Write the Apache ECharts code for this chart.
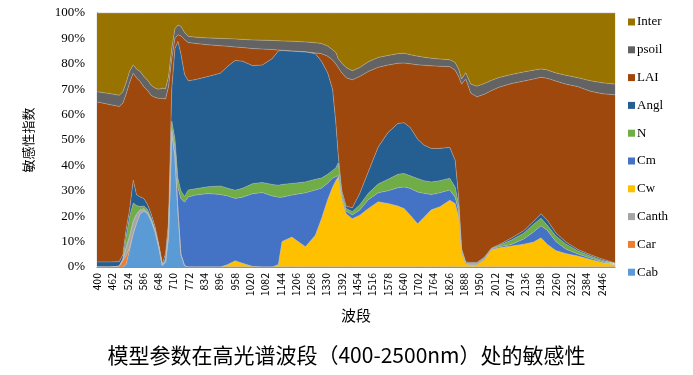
<!DOCTYPE html>
<html>
<head>
<meta charset="utf-8">
<script src="https://cdn.jsdelivr.net/npm/echarts@6/dist/echarts.min.js"></script>
<style>html,body{margin:0;padding:0;background:#fff;}#c{width:693px;height:375px;}</style>
</head>
<body>
<div id="c"></div>
<script>
// wavelengths (nm)
var wavelengths = [400,450,490,505,518,532,547,560,575,590,
  605,620,635,650,665,678,690,703,716,728,
  740,755,770,800,850,900,930,960,990,1030,
  1070,1110,1135,1150,1190,1245,1285,1310,1335,1355,
  1368,1378,1392,1410,1435,1465,1500,1540,1580,1620,
  1645,1670,1700,1725,1755,1790,1830,1852,1866,1878,
  1895,1915,1940,1970,2000,2030,2080,2130,2170,2200,
  2225,2260,2300,2350,2400,2450,2500];
var xTickLabels = ['400','462','524','586','648','710','772','834','896','958','1020','1082','1144','1206','1268','1330','1392','1454','1516','1578','1640','1702','1764','1826','1888','1950','2012','2074','2136','2198','2260','2322','2384','2446'];
var yTickLabels = ['0%','10%','20%','30%','40%','50%','60%','70%','80%','90%','100%'];

var cab = [0,0,0,0,1,6.6,13,17,21,22,
  21,18,14,8,0.6,2,12,52.5,43.4,22,
  5,0.5,0,0,0,0,0,0,0,0,
  0,0,0,0,0,0,0,0,0,0,
  0,0,0,0,0,0,0,0,0,0,
  0,0,0,0,0,0,0,0,0,0,
  0,0,0,0,0,0,0,0,0,0,
  0,0,0,0,0,0,0];
var car = [0,0,0.3,2.5,3.5,1,0.3,0,0,0,
  0,0,0,0,0,0,0,0,0,0,
  0,0,0,0,0,0,0,0,0,0,
  0,0,0,0,0,0,0,0,0,0,
  0,0,0,0,0,0,0,0,0,0,
  0,0,0,0,0,0,0,0,0,0,
  0,0,0,0,0,0,0,0,0,0,
  0,0,0,0,0,0,0];
var canth = [0,0,0,0.3,3,4.2,4.5,3.5,1.2,0.7,
  0.4,0.3,0.2,0.1,0,0,0.5,1,0.6,0.2,
  0,0,0,0,0,0,0,0,0,0,
  0,0,0,0,0,0,0,0,0,0,
  0,0,0,0,0,0,0,0,0,0,
  0,0,0,0,0,0,0,0,0,0,
  0,0,0,0,0,0,0,0,0,0,
  0,0,0,0,0,0,0];
var cw = [0,0,0,0,0,0,0,0,0,0,
  0,0,0,0,0,0,0,0,0,0,
  0,0,0,0,0,0,1,2.5,1.5,0.3,
  0,0,1,10,11.8,8,12.5,19,26.5,31.5,
  34,35.5,27,21,19,20.4,23,25.7,25,24,
  23,20.4,17,19.5,22.5,23.7,26.3,25,20,5.5,
  1.2,1,1,3,6.8,7.6,8.3,9,9.8,11.5,
  9,6.5,5.3,4.3,3,1.8,0.8];
var cm = [0,0,0,0,0.3,0.4,0.4,0.4,0.3,0.3,
  0.2,0.2,0.2,0.1,0,0.3,0.5,1,3,9,
  22,25,27.6,28.3,28.9,28.5,27,24.5,26,28.5,
  29.3,28,26.5,17.5,16.5,21.2,17.8,12,6.5,3.5,
  1.5,0.5,0.8,1,1.5,2,3.5,3.5,5,7.2,
  8.5,10.5,12.5,9.5,6,5.5,4,2.5,2,0.7,
  0.3,0.3,0.3,0.3,0.3,0.4,0.6,2,4,4.7,
  5.5,3.5,1.8,0.8,0.5,0.3,0.2];
var nVals = [0,0,0,0.5,4,7.5,7,3.3,1.3,1,
  1,0.8,0.6,0.4,0.2,1,2,3,3.5,3.7,
  3,2.3,2.7,2.5,2.7,3.4,3,3.2,3.5,4,
  4,4.5,4.7,5,4.6,4.3,4.2,4,3.5,3,
  3.5,5,1.5,1,1.3,2,2.5,3.5,4.5,5.3,
  5.3,5,5.3,5,5,4.8,4.6,4,2.5,0.5,
  0.2,0.2,0.2,0.2,0.2,0.5,1.7,2.3,3,3,
  2,2.2,2,1.2,0.8,0.5,0.3];
var angl = [2,2,1.8,1.5,3,2.7,9,4.3,3.8,3,
  2,1.5,1,0.6,0.4,2,3,12.5,35.5,53.9,
  54,48,43,43,43.4,44.4,48,51.1,50,46.5,
  46.2,49.5,52.8,52.8,52.1,51.2,49.5,46,40,32,
  18,3,1,1,1.5,4.5,8.5,14.5,18.5,20,
  20,19,15.5,14,13.2,12.7,12.2,10.5,3,0.5,
  0.3,0.3,0.3,0.3,0.2,0.3,0.8,1,1.2,1.8,
  2,1.3,0.8,0.6,0.5,0.5,0.3];
var lai = [63,62,61.1,59.7,53.2,50.1,42.1,46,45.4,44,
  44.9,46.7,50.8,57.2,65.2,60.9,53,12,4,2.6,
  7,13.7,15.1,14.2,12.5,10.8,7.9,5.3,5.4,6.7,
  6.3,3.6,0.4,0,0,0,0.3,3,6.5,11.5,
  23,34.5,46.2,50.5,50.4,46.1,39.5,31.4,26.5,23.7,
  23.5,25.1,29.3,31.4,32.5,32.3,31.8,35.5,47.5,64.8,
  72,66.7,65.2,64.2,62,62,60.8,58.9,56,53.7,
  55.8,59.7,62.1,64.1,64.4,65.1,66.2];
var psoil = [4,4.3,4.4,4.5,4.5,4.5,3.3,3.5,4,4,
  4,4,3.7,3.6,4,4,4,4,3.8,3.8,
  3.8,2.8,2.4,2.5,2.7,2.9,3,3.2,3.2,3.4,
  3.5,3.6,3.7,3.7,3.9,3.9,4,4,4,4,
  4.5,3.5,3.8,4,3.6,3.5,3.8,3.9,3.8,3.8,
  3.9,3.6,3.4,3.2,3,2.9,2.7,3,3,2,
  2.5,3.5,4.2,4.2,4,3.8,3.6,3.6,3.5,3.3,
  3.3,3.2,3.5,3.5,4.1,4.3,4.2];
var inter = [31,31.7,32.4,31,27.5,23,20.4,22,23,25,
  26.5,28.5,29.5,30,29.6,29.8,25,14,6.2,4.8,
  5.2,7.7,9.2,9.5,9.8,10,10.1,10.2,10.4,10.6,
  10.7,10.8,10.9,11,11.1,11.4,11.7,12,13,14.5,
  15.5,18,19.7,21.5,22.7,21.5,19.2,17.5,16.7,16,
  15.8,16.4,17,17.4,17.8,18.1,18.4,19.5,22,26,
  23.5,28,28.8,27.8,26.5,25.4,24.2,23.2,22.5,22,
  22.4,23.6,24.5,25.5,26.7,27.5,28];

var seriesNames = ['Cab','Car','Canth','Cw','Cm','N','Angl','LAI','psoil','Inter'];
var seriesValues = [cab,car,canth,cw,cm,nVals,angl,lai,psoil,inter];
var colors = ['#5B9BD5','#ED7D31','#A5A5A5','#FFC000','#4472C4','#70AD47','#255E91','#9E480E','#636363','#997300'];

var series = seriesNames.map(function(name, k){
  return {
    name: name,
    type: 'line',
    stack: 'total',
    symbol: 'none',
    lineStyle: {width: 0.6, color: 'rgba(190,190,190,0.7)'},
    areaStyle: {color: colors[k], opacity: 1},
    itemStyle: {color: colors[k]},
    emphasis: {disabled: true},
    encode: {x: 1, y: 0},
    // [value, wavelength] so that the stacked dimension is the value
    data: wavelengths.map(function(w, i){ return [seriesValues[k][i], w]; })
  };
});

var chart = echarts.init(document.getElementById('c'), null, {renderer: 'canvas'});
chart.setOption({
  animation: false,
  backgroundColor: '#fff',
  color: colors,
  title: {
    text: '模型参数在高光谱波段（400-2500nm）处的敏感性',
    left: 'center',
    top: 340,
    textStyle: {fontFamily: 'Noto Sans CJK SC', fontSize: 21, fontWeight: 'normal', color: '#000'}
  },
  grid: {left: 97, right: 78, top: 13, bottom: 108, show: true, borderColor: '#d9d9d9', borderWidth: 1},
  legend: {
    orient: 'vertical',
    left: 623,
    top: 10,
    icon: 'rect',
    itemWidth: 7,
    itemHeight: 7,
    itemGap: 13.8,
    data: seriesNames.slice().reverse(),
    textStyle: {fontFamily: 'Liberation Serif', fontSize: 13, color: '#000', lineHeight: 14, padding: [0,0,0,-3]}
  },
  xAxis: {
    type: 'value',
    min: 400,
    max: 2500,
    interval: 62,
    name: '波段',
    nameLocation: 'middle',
    nameGap: 41,
    nameTextStyle: {fontFamily: 'Noto Sans CJK SC', fontSize: 15, color: '#000'},
    axisLine: {show: true, lineStyle: {color: '#8c8c8c'}},
    axisTick: {show: false},
    splitLine: {show: false},
    axisLabel: {
      rotate: 90,
      showMaxLabel: false,
      margin: 6,
      fontFamily: 'Noto Sans CJK SC',
      fontSize: 10.5,
      color: '#000',
      formatter: function(v){ var s = String(v); return xTickLabels.indexOf(s) >= 0 ? s : ''; }
    }
  },
  yAxis: {
    type: 'value',
    min: 0,
    max: 100,
    interval: 10,
    name: '敏感性指数',
    nameLocation: 'middle',
    nameGap: 62,
    nameRotate: 90,
    nameTextStyle: {fontFamily: 'Noto Sans CJK SC', fontSize: 13, color: '#000'},
    axisLine: {show: true, lineStyle: {color: '#404040'}},
    axisTick: {show: false},
    splitLine: {show: false},
    axisLabel: {
      margin: 12,
      fontFamily: 'Liberation Serif',
      fontSize: 13,
      color: '#000',
      formatter: function(v){ return yTickLabels[Math.round(v/10)]; }
    }
  },
  series: series
});
</script>
</body>
</html>
